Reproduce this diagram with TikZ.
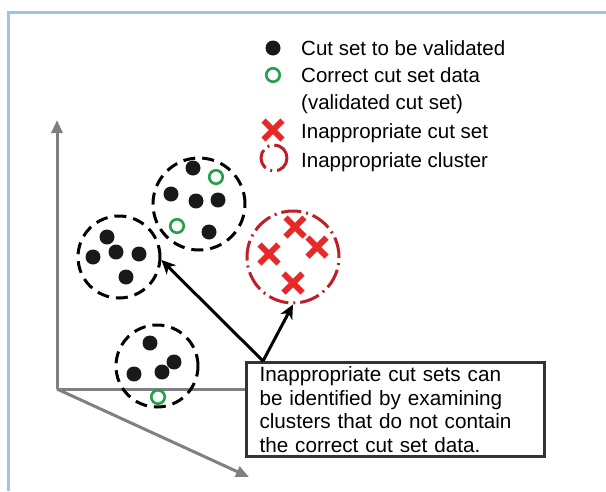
\documentclass[tikz,border=0pt]{standalone}
\usepackage{fontspec}
\setmainfont{Liberation Sans}
\usetikzlibrary{arrows.meta, shapes.misc}
\definecolor{framebl}{RGB}{157,195,230}
\definecolor{axisgray}{RGB}{128,128,128}
\definecolor{okgreen}{RGB}{34,160,75}
\definecolor{badred}{RGB}{232,40,40}
\definecolor{clured}{RGB}{190,30,40}
\definecolor{boxgray}{RGB}{51,51,51}
\tikzset{cut node/.style={circle, fill=black!90, minimum size=15pt, inner sep=0pt},
  ok node/.style={circle, draw=okgreen, fill=white, line width=2.6pt, minimum size=13.5pt, inner sep=0pt},
  bad node/.style={cross out, draw=badred, line width=6pt, minimum size=13pt, inner sep=0pt},
  cluster node/.style={circle, draw, line width=3pt, dash pattern=on 12pt off 7pt, minimum size=82pt, inner sep=0pt},
  bad cluster/.style={circle, draw=clured, line width=3pt, dash pattern=on 20pt off 5pt on 2pt off 5pt, minimum size=92pt, inner sep=0pt},
  legend text/.style={inner sep=0pt, align=left},
  note node/.style={draw=boxgray, fill=white, line width=3pt, minimum width=298pt, minimum height=94pt, text width=272pt, inner xsep=13pt, align=left, font=\fontsize{20.7}{23.7}\selectfont},
  axis line/.style={draw=axisgray, line width=3pt, -{Triangle[length=13pt, width=11pt]}},
  note arrow/.style={line width=3pt, -{Stealth[length=14pt, width=13pt, inset=4pt]}},}

\begin{document}
\begin{tikzpicture}[x=1pt, y=-1pt, font=\fontsize{20.5}{27}\selectfont]
        \useasboundingbox (0,0) rectangle (606,491);
        \draw[framebl, line width=3pt] (8.5,491) -- (8.5,12.5) -- (606,12.5);
        % Axes
        \coordinate (o) at (57,389);
        \coordinate (ytip) at (57,120);
        \coordinate (ztip) at (249,477);
        \node[note node, anchor=north west] (note) at (245,361) {Inappropriate cut sets can\\be identified by examining\\clusters that do not contain\\the correct cut set data.};
        \draw[axis line] (o) -- (ytip);
        \draw[axis line] (o) -- (ztip);
        \draw[axis line, -] (o) -- (o -| note.west);
        % Clusters
        \node[cluster node] (c1) at (119,257) {};
        \node[cluster node, minimum size=92pt] (c2) at (199,204) {};
        \node[cluster node] (c3) at (157,366) {};
        \node[bad cluster] (c4) at (293,257) {};
        % Cut sets
        \node[cut node] (a1) at (107,237) {};
        \node[cut node] (a2) at (93,257) {};
        \node[cut node] (a3) at (116,252) {};
        \node[cut node] (a4) at (139,254) {};
        \node[cut node] (a5) at (126,277) {};
        \node[cut node] (b1) at (193,168) {};
        \node[cut node] (b2) at (171,194) {};
        \node[cut node] (b3) at (196,201) {};
        \node[cut node] (b4) at (218,200) {};
        \node[cut node] (b5) at (209,232) {};
        \node[ok node] (b6) at (216,177) {};
        \node[ok node] (b7) at (177,226) {};
        \node[cut node] (d1) at (150,343) {};
        \node[cut node] (d2) at (174,362) {};
        \node[cut node] (d3) at (134,374) {};
        \node[cut node] (d4) at (162,372) {};
        \node[ok node] (d5) at (158,397) {};
        \node[bad node] (e1) at (295,227) {};
        \node[bad node] (e2) at (317,247) {};
        \node[bad node] (e3) at (269,254) {};
        \node[bad node] (e4) at (293,283) {};
        % Arrows
        \coordinate (src) at ([xshift=18pt]note.north west);
        \draw[note arrow] (src) -- (c1.-4);
        \draw[note arrow] (src) -- (c4.south);
        % Legend
        \node[cut node] (l1) at (273,48) {};
        \node[ok node] (l2) at (273,75) {};
        \node[bad node] (l3) at (273,130) {};
        \node[bad cluster, minimum size=26pt] (l4) at (274,158) {};
        \node[legend text, anchor=base west] (t1) at (301,55) {Cut set to be validated};
        \node[legend text, anchor=north west] (t2) at (301,67.3) {Correct cut set data\\(validated cut set)};
        \node[legend text, anchor=base west] (t3) at (301,138) {Inappropriate cut set};
        \node[legend text, anchor=base west] (t4) at (301,167) {Inappropriate cluster};
\end{tikzpicture}
\end{document}
